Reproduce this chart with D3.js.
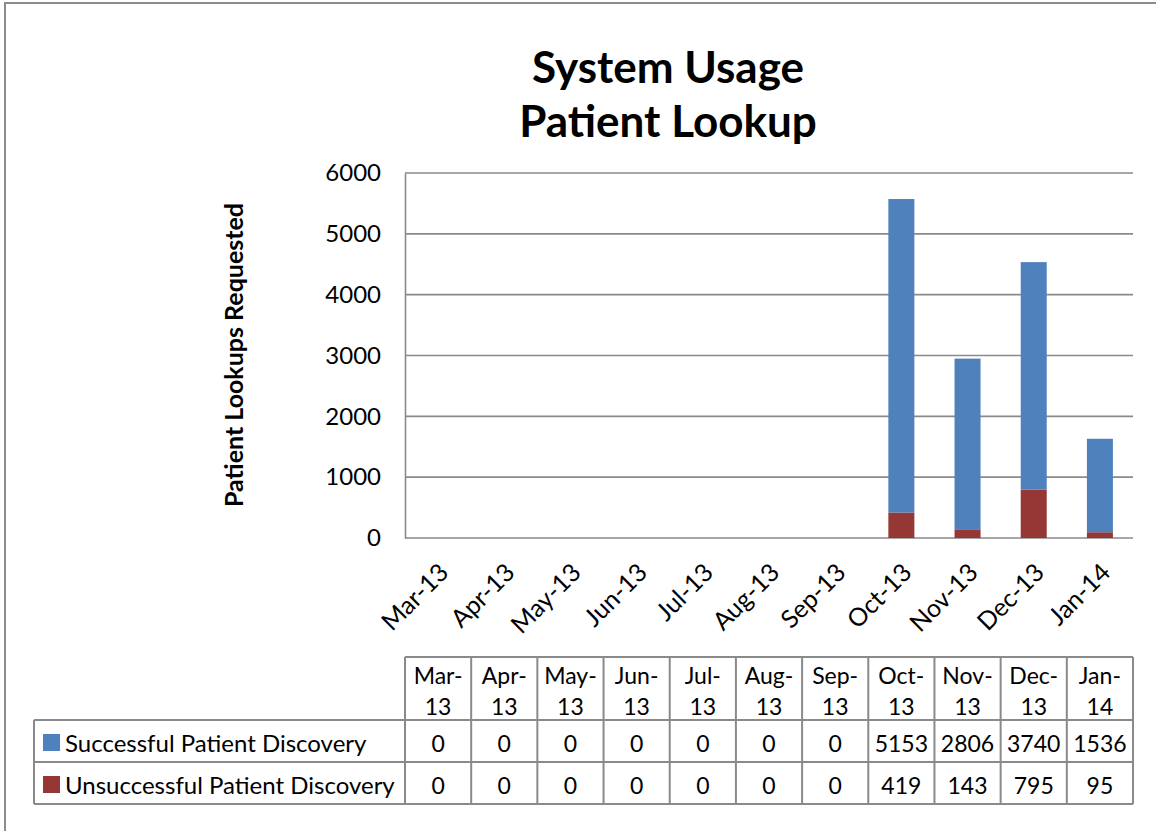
<!DOCTYPE html>
<html>
<head>
<meta charset="utf-8">
<script src="https://cdn.jsdelivr.net/npm/d3@7"></script>
<style>
  body { margin: 0; background: #fff; }
  text { font-family: Lato, "Open Sans", sans-serif; fill: #000; }
</style>
</head>
<body>
<svg id="chart" width="1156" height="831"></svg>
<script>
// data
let months = ['Mar-13', 'Apr-13', 'May-13', 'Jun-13', 'Jul-13', 'Aug-13', 'Sep-13', 'Oct-13', 'Nov-13', 'Dec-13', 'Jan-14'];
let successful = [0, 0, 0, 0, 0, 0, 0, 5153, 2806, 3740, 1536];
let unsuccessful = [0, 0, 0, 0, 0, 0, 0, 419, 143, 795, 95];
let seriesNames = ['Successful Patient Discovery', 'Unsuccessful Patient Discovery'];
let seriesColors = ['#4f81bd', '#943735'];
let yTicks = [0, 1000, 2000, 3000, 4000, 5000, 6000];

let svg = d3.select('#chart');
let gridColor = '#8a8a8a';

// outer frame (only top and left show in the picture)
svg.append('rect')
  .attr('x', 5).attr('y', 3)
  .attr('width', 1160).attr('height', 840)
  .attr('fill', 'none')
  .attr('stroke', '#8c8c8c')
  .attr('stroke-width', 2);

// title
let title = svg.append('text')
  .attr('text-anchor', 'middle')
  .attr('font-weight', 'bold')
  .attr('font-size', 44);
title.append('tspan').attr('x', 668).attr('y', 83).text('System Usage');
title.append('tspan').attr('x', 668).attr('y', 137).text('Patient Lookup');

let pad = 0.607;
let x = d3.scaleBand()
  .domain(months)
  .range([405, 1133])
  .paddingInner(pad)
  .paddingOuter(pad / 2);

let y = d3.scaleLinear()
  .domain([0, 6000])
  .range([538, 173]);

// gridlines
svg.append('g')
  .selectAll('line')
  .data(yTicks)
  .enter()
  .append('line')
  .attr('x1', 405).attr('x2', 1133)
  .attr('y1', d => y(d)).attr('y2', d => y(d))
  .attr('stroke', gridColor)
  .attr('stroke-width', 1.6);

// y axis
let yAxis = svg.append('g')
  .attr('transform', 'translate(405,0)')
  .call(d3.axisLeft(y).tickValues(yTicks).tickFormat(d3.format('d')).tickSize(0).tickPadding(24));
yAxis.select('.domain').attr('stroke', gridColor).attr('stroke-width', 1.6);
yAxis.selectAll('text')
  .style('font-family', 'Lato, sans-serif')
  .attr('font-size', 24)
  .attr('fill', '#000');

svg.append('text')
  .attr('transform', 'translate(243,355) rotate(-90)')
  .attr('text-anchor', 'middle')
  .attr('font-weight', 'bold')
  .attr('font-size', 25)
  .text('Patient Lookups Requested');

// stacked bars
let rows = months.map((m, i) => ({ month: m, s0: successful[i], s1: unsuccessful[i] }));
let stacked = d3.stack().keys(['s1', 's0'])(rows);
let colorFor = { s0: seriesColors[0], s1: seriesColors[1] };

svg.append('g')
  .selectAll('g')
  .data(stacked)
  .enter()
  .append('g')
  .attr('fill', d => colorFor[d.key])
  .selectAll('rect')
  .data(d => d)
  .enter()
  .append('rect')
  .attr('x', d => x(d.data.month))
  .attr('width', x.bandwidth())
  .attr('y', d => y(d[1]))
  .attr('height', d => y(d[0]) - y(d[1]));

// rotated month labels
svg.append('g')
  .selectAll('text')
  .data(months)
  .enter()
  .append('text')
  .attr('text-anchor', 'end')
  .attr('font-size', 25)
  .attr('transform', m => `translate(${x(m) + x.bandwidth() / 2 + 12},${574}) rotate(-45)`)
  .text(m => m);

// data table
let step = x.step();
let colLeft = m => x(m) - (step - x.bandwidth()) / 2;
let tTop = 657, tHead = 720, tRow1 = 762, tRow2 = 804;
let legLeft = 34;
let table = svg.append('g')
  .attr('stroke', gridColor)
  .attr('stroke-width', 2);

// horizontal lines
table.append('line').attr('x1', 405).attr('x2', 1133).attr('y1', tTop).attr('y2', tTop);
[tHead, tRow1, tRow2].forEach(yy => {
  table.append('line').attr('x1', legLeft).attr('x2', 1133).attr('y1', yy).attr('y2', yy);
});
// vertical lines
table.append('line').attr('x1', legLeft).attr('x2', legLeft).attr('y1', tHead).attr('y2', tRow2);
months.forEach(m => {
  table.append('line').attr('x1', colLeft(m)).attr('x2', colLeft(m)).attr('y1', tTop).attr('y2', tRow2);
});
table.append('line').attr('x1', 1133).attr('x2', 1133).attr('y1', tTop).attr('y2', tRow2);

// header cells
let head = svg.append('g')
  .selectAll('text')
  .data(months)
  .enter()
  .append('text')
  .attr('text-anchor', 'middle')
  .attr('font-size', 23);
head.append('tspan')
  .attr('x', m => x(m) + x.bandwidth() / 2)
  .attr('y', 684)
  .text(m => m.split('-')[0] + '-');
head.append('tspan')
  .attr('x', m => x(m) + x.bandwidth() / 2)
  .attr('y', 715)
  .text(m => m.split('-')[1]);

// value cells
[successful, unsuccessful].forEach((vals, r) => {
  let baseY = r === 0 ? 752 : 794;
  svg.append('g')
    .selectAll('text')
    .data(vals)
    .enter()
    .append('text')
    .attr('text-anchor', 'middle')
    .attr('font-size', 23)
    .attr('x', (v, i) => x(months[i]) + x.bandwidth() / 2)
    .attr('y', baseY)
    .text(v => v);

  svg.append('rect')
    .attr('x', 43)
    .attr('y', baseY - 18)
    .attr('width', 17)
    .attr('height', 17)
    .attr('fill', seriesColors[r]);

  svg.append('text')
    .attr('x', 65)
    .attr('y', baseY)
    .attr('font-size', 24)
    .text(seriesNames[r]);
});
</script>
</body>
</html>
